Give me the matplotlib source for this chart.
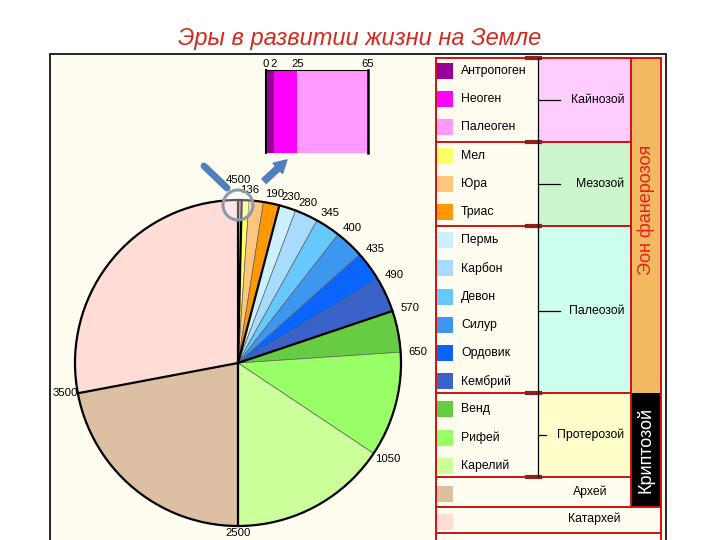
import numpy as np
import matplotlib
matplotlib.use("Agg")
import matplotlib.pyplot as plt
from matplotlib.patches import Rectangle, Circle

plt.rcParams["font.family"] = ["Liberation Sans", "DejaVu Sans"]

# ── DATA ─────────────────────────────────────────────
periods = ["Антропоген", "Неоген", "Палеоген", "Мел", "Юра", "Триас",
           "Пермь", "Карбон", "Девон", "Силур", "Ордовик", "Кембрий",
           "Венд", "Рифей", "Карелий", "Архей", "Катархей"]
# angular size of each sector as drawn in the schematic (degrees)
sector_deg = [0.1, 0.3, 0.9, 2.6, 5.1, 5.7, 6.0, 8.3, 8.9, 10.4, 10.9,
              12.2, 14.8, 37.5, 56.3, 79.3, 100.7]
# age (mln years) at the older end of each period
end_age = ["2", "25", "65", "136", "190", "230", "280", "345", "400", "435",
           "490", "570", "650", "1050", "2500", "3500", "4500"]
colors = ["#990099", "#FF00FF", "#FF99FF", "#FFFF66", "#FFC47E", "#FF9900",
          "#CCF0FF", "#A8DCFF", "#66C8FF", "#3D97F0", "#0A64FF", "#3B62C8",
          "#66CC44", "#99FF66", "#CCFF99", "#DDBFA4", "#FFDDD6"]
era_last_period = [2, 5, 11, 14, 15, 16]

eras = ["Кайнозой", "Мезозой", "Палеозой", "Протерозой"]
era_colors = ["#FFCCFF", "#CCF5CC", "#CCFFEE", "#FFFFCC"]

W, H = 720, 540
fig = plt.figure(figsize=(W / 100, H / 100), dpi=100)
fig.patch.set_facecolor("white")

# ── BACKGROUND / TABLE (pixel coords) ─────────────────
bg = fig.add_axes([0, 0, 1, 1], zorder=0)
bg.set_xlim(0, W)
bg.set_ylim(H, 0)
bg.axis("off")

bg.add_patch(Rectangle((50, 54), 616, 500, fc="#FFFDF0", ec="black", lw=1.2))
bg.text(360, 38, "Эры в развитии жизни на Земле", ha="center", va="center",
        fontsize=17, style="italic", color="#D42A1E")

row_h = 28.2
row0 = 71
era_bounds = [58, 142, 226, 393, 477]
connector_end = [560, 560, 560, 546]
for i, (name, c) in enumerate(zip(eras, era_colors)):
    y0, y1 = era_bounds[i], era_bounds[i + 1]
    bg.add_patch(Rectangle((538, y0), 93, y1 - y0, fc=c, ec="none"))
    ym = (y0 + y1) / 2 if i != 2 else 311
    bg.plot([538, connector_end[i]], [ym, ym], color="black", lw=0.9)
    bg.text(624, ym, name, ha="right", va="center", fontsize=8.8)

bg.add_patch(Rectangle((631, 58), 30, 335, fc="#F2B862", ec="none"))
bg.add_patch(Rectangle((631, 393), 30, 114, fc="black", ec="none"))
bg.text(646, 210, "Эон фанерозоя", rotation=90, ha="center", va="center",
        fontsize=13, color="#E8201A")
bg.text(646, 450, "Криптозой", rotation=90, ha="center", va="center",
        fontsize=13, color="white")

bg.text(590, 492, "Архей", ha="center", va="center", fontsize=8.8)
bg.text(594, 519, "Катархей", ha="center", va="center", fontsize=8.8)

red = "#D01010"
for y in era_bounds:
    bg.plot([436, 631], [y, y], color=red, lw=1.4)
    bg.plot([527, 540], [y, y], color="#902020", lw=3)
for y in [507, 533]:
    bg.plot([436, 661], [y, y], color=red, lw=1.4)
bg.plot([631, 661], [58, 58], color=red, lw=1.4)
bg.plot([436, 436], [58, 545], color=red, lw=1.4)
bg.plot([631, 631], [58, 507], color=red, lw=1.4)
bg.plot([661, 661], [58, 545], color=red, lw=1.4)
bg.plot([538, 538], [58, 477], color="black", lw=0.9)

for i, (name, c) in enumerate(zip(periods, colors)):
    y = row0 + i * row_h
    bg.add_patch(Rectangle((437, y - 8), 16, 16, fc=c, ec="none"))
    if i < 15:
        bg.text(461, y, name, ha="left", va="center", fontsize=8.8)

# ── PIE ──────────────────────────────────────────────
cx, cy, r = 238, 363, 163
span = 1.5
pie_ax = fig.add_axes([(cx - span * r) / W, (H - cy - span * r) / H,
                       2 * span * r / W, 2 * span * r / H], zorder=1)
pie_ax.patch.set_alpha(0)
pie_ax.pie(sector_deg, colors=colors, startangle=90, counterclock=False,
           radius=1, wedgeprops=dict(linewidth=0.5, edgecolor="#606060"))
pie_ax.set_xlim(-span, span)
pie_ax.set_ylim(-span, span)
pie_ax.set_aspect("equal")
pie_ax.axis("off")
pie_ax.add_patch(Circle((0, 0), 1, fill=False, lw=1.6, ec="black"))

cum = np.cumsum(sector_deg)
theta = np.deg2rad(cum)
for k in era_last_period:
    pie_ax.plot([0, np.sin(theta[k])], [0, np.cos(theta[k])], color="black", lw=1.6)

for k in range(3, len(end_age)):
    t = theta[k]
    rr, ha, va = 1.05, "left", "center"
    if end_age[k] == "136":
        rr, ha, va = 1.03, "center", "bottom"
    elif end_age[k] == "1050":
        rr, va = 1.01, "top"
    elif end_age[k] == "2500":
        rr, ha, va = 1.01, "center", "top"
    elif end_age[k] == "3500":
        rr, ha = 1.0, "right"
    elif end_age[k] == "4500":
        rr, ha, va = 1.09, "center", "bottom"
    pie_ax.text(rr * np.sin(t), rr * np.cos(t), end_age[k], ha=ha, va=va,
                fontsize=8.2)

# ── ZOOM INSET ───────────────────────────────────────
ins = fig.add_axes([266 / W, (H - 153) / H, 102 / W, 83 / H], zorder=2)
left = np.concatenate([[0], cum[:2]])
ins.barh(0, sector_deg[:3], left=left, height=1, color=colors[:3], edgecolor="none")
ins.set_xlim(0, cum[2])
ins.set_ylim(-0.5, 0.5)
ins.xaxis.tick_top()
ins.set_xticks(np.concatenate([[0], cum[:3]]))
ins.set_xticklabels(["0", "2", "25", "65"], fontsize=8.2)
ins.tick_params(axis="x", length=0, pad=1)
ins.set_yticks([])
ins.spines["bottom"].set_visible(False)
ins.spines["top"].set_linewidth(0.8)
ins.spines["left"].set_linewidth(1.5)
ins.spines["right"].set_linewidth(1.8)

# ── ARROWS AND MAGNIFIER ─────────────────────────────
fg = fig.add_axes([0, 0, 1, 1], zorder=3)
fg.set_xlim(0, W)
fg.set_ylim(H, 0)
fg.axis("off")
fg.patch.set_alpha(0)
fg.plot([204, 227], [166, 188], color="#4F7FBF", lw=5, solid_capstyle="round")
fg.annotate("", xy=(289, 158), xytext=(262, 183),
            arrowprops=dict(arrowstyle="simple,head_width=1.0,head_length=0.9,tail_width=0.45",
                            color="#4F7FBF"))
fg.add_patch(Circle((238, 205), 15, fc="white", alpha=0.35, ec="none"))
fg.add_patch(Circle((238, 205), 15, fill=False, ec="#8A98B0", lw=2.2))

fig.savefig("out.png", dpi=100)
